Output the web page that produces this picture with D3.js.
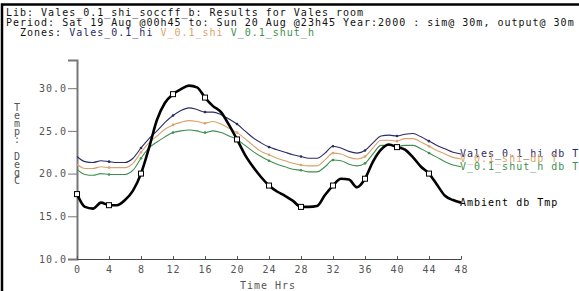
<!DOCTYPE html>
<head>
<meta charset="utf-8">
<title>Vales_room results</title>
<script src="https://d3js.org/d3.v7.min.js"></script>
<style>
  body { margin: 0; background: #fff; }
  svg text { font-family: "DejaVu Sans Mono", "Liberation Mono", monospace; font-size: 10px; letter-spacing: 1px; }
</style>
</head>
<body>
<div id="container"></div>
<script>
//---------------------------- DATA ----------------------------//
const hours = d3.range(0, 49);   // hourly samples, 0..48
const xTicks = [0, 4, 8, 12, 16, 20, 24, 28, 32, 36, 40, 44, 48];
const yTicks = [10, 15, 20, 25, 30];
const headerLines = [
  "Lib: Vales_0.1_shi_soccff_b: Results for Vales_room",
  "Period: Sat 19 Aug @00h45 to: Sun 20 Aug @23h45 Year:2000 : sim@ 30m, output@ 30m"
];
const zoneNames = ["Vales_0.1_hi", "V_0.1_shi", "V_0.1_shut_h"];
const seriesLabels = ["Vales_0.1_hi db T", "V_0.1_shi db T", "V_0.1_shut_h db T", "Ambient db Tmp"];
const yLabelChars = ["T", "e", "m", "p", ":", "", "D", "e", "g", "C"];

const valesHi = [22.0, 21.4, 21.3, 21.5, 21.4, 21.3, 21.3, 21.8, 23.0, 24.1,
  25.0, 26.0, 26.8, 27.4, 27.7, 27.5, 27.2, 27.2, 26.9, 26.4,
  25.8, 25.0, 24.2, 23.6, 23.1, 22.8, 22.5, 22.2, 22.0, 21.8,
  21.8, 22.4, 23.2, 23.0, 22.6, 22.4, 22.7, 23.6, 24.4, 24.5,
  24.4, 24.6, 24.7, 24.3, 23.8, 23.3, 22.9, 22.5, 22.3];
const vShi = [21.1, 20.6, 20.6, 20.8, 20.7, 20.7, 20.7, 21.2, 22.5, 23.6,
  24.4, 25.2, 25.7, 26.0, 26.2, 26.1, 25.9, 26.1, 25.8, 25.3,
  24.8, 24.1, 23.3, 22.6, 22.2, 21.8, 21.5, 21.2, 21.0, 20.9,
  20.9, 21.6, 22.4, 22.3, 21.9, 21.7, 22.0, 23.0, 23.9, 23.9,
  23.8, 24.1, 24.1, 23.7, 23.2, 22.7, 22.3, 21.9, 21.7];
const vShutH = [20.5, 19.9, 19.8, 20.0, 19.9, 19.9, 19.9, 20.4, 21.8, 23.0,
  23.7, 24.3, 24.8, 25.0, 25.1, 25.0, 24.8, 25.0, 24.8, 24.4,
  24.0, 23.3, 22.6, 22.0, 21.5, 21.1, 20.8, 20.5, 20.4, 20.2,
  20.2, 20.8, 21.6, 21.5, 21.1, 20.9, 21.2, 22.3, 23.3, 23.3,
  23.2, 23.3, 23.3, 22.9, 22.4, 21.9, 21.4, 21.0, 20.8];
const ambient = [17.6, 16.1, 15.9, 16.6, 16.3, 16.3, 16.9, 18.0, 20.0, 23.0,
  26.3, 28.3, 29.3, 29.9, 30.3, 30.1, 28.9, 27.9, 27.2, 25.7,
  24.0, 22.2, 20.8, 19.6, 18.6, 17.9, 17.4, 16.8, 16.1, 16.1,
  16.2, 17.5, 18.6, 19.4, 19.3, 18.4, 19.4, 21.4, 22.8, 23.4,
  23.1, 22.8, 21.9, 20.8, 20.0, 18.7, 17.4, 16.9, 16.6];

const colors = ["#2b2b66", "#d9a36b", "#3f8f4f", "#000000"];

//---------------------------- SVG -----------------------------//
const width = 579, height = 291;
const svg = d3.select("#container").append("svg")
    .attr("width", width)
    .attr("height", height);

// window frame (top and left edges)
svg.append("path")
    .attr("d", "M2,291V4.5H579")
    .attr("fill", "none")
    .attr("stroke", "#000")
    .attr("stroke-width", 2.5);

// header
svg.selectAll(".hdr")
  .data(headerLines)
  .enter().append("text")
    .attr("class", "hdr")
    .attr("x", 6)
    .attr("y", (d, i) => 16 + i * 10)
    .attr("fill", "#111")
    .text(d => d);

const zt = svg.append("text")
    .attr("x", 20)
    .attr("y", 36);
zt.append("tspan").attr("fill", "#111").text("Zones: ");
zoneNames.forEach((z, i) => {
  zt.append("tspan").attr("fill", colors[i]).text(z + (i < zoneNames.length - 1 ? " " : ""));
});

//--------------------------- SCALES ---------------------------//
const x = d3.scaleLinear().domain([0, 48]).range([77, 461]);
const y = d3.scaleLinear().domain([10, 33.3]).range([259, 60]);

//---------------------------- AXES ----------------------------//
const yAxis = d3.axisLeft(y)
    .tickValues(yTicks)
    .tickSize(9)
    .tickPadding(1)
    .tickFormat(d3.format(".1f"));
const gy = svg.append("g")
    .attr("transform", "translate(77,0)")
    .call(yAxis);
gy.select(".domain").attr("stroke", "#777").attr("stroke-width", 2);
gy.selectAll(".tick line").attr("stroke", "#777");
gy.selectAll(".tick text")
    .attr("font-size", null)
    .attr("font-family", null)
    .attr("fill", "#555");

const xAxis = d3.axisBottom(x)
    .tickValues(xTicks)
    .tickSizeInner(-3)
    .tickSizeOuter(0)
    .tickPadding(7);
const gx = svg.append("g")
    .attr("transform", "translate(0,259)")
    .call(xAxis);
gx.select(".domain").attr("stroke", "#444");
gx.selectAll(".tick line").attr("stroke", "#555");
gx.selectAll(".tick text")
    .attr("fill", "#555");
gx.attr("font-size", null).attr("font-family", null);
gy.attr("font-size", null).attr("font-family", null);

svg.append("text")
    .attr("x", (x(0) + x(48)) / 2 - 1)
    .attr("y", 289)
    .attr("text-anchor", "middle")
    .attr("fill", "#555")
    .text("Time Hrs");

// vertical y label
svg.selectAll(".ylab")
  .data(yLabelChars)
  .enter().append("text")
    .attr("class", "ylab")
    .attr("x", 17)
    .attr("y", (d, i) => 111 + i * 8.1)
    .attr("text-anchor", "middle")
    .style("letter-spacing", "0")
    .attr("fill", "#555")
    .text(d => d);

//---------------------------- LINES ---------------------------//
const series = [valesHi, vShi, vShutH, ambient].map((vals, i) => ({
  label: seriesLabels[i],
  color: colors[i],
  values: hours.map((h, j) => ({ h: h, t: vals[j] }))
}));

const line = d3.line()
    .x(d => x(d.h))
    .y(d => y(d.t))
    .curve(d3.curveMonotoneX);

const lines = svg.selectAll(".serie")
  .data(series)
  .enter().append("g")
    .attr("class", "serie");

lines.append("path")
    .attr("d", d => line(d.values))
    .attr("fill", "none")
    .attr("stroke", d => d.color)
    .attr("stroke-width", (d, i) => i === 3 ? 2.6 : 1.1);

// markers every 4 hours
lines.each(function(d, i) {
  const marks = d.values.filter(v => v.h % 4 === 0 && v.h > 0 && v.h < 48 || (i === 3 && v.h === 0));
  if (i === 3) {
    d3.select(this).selectAll("rect")
      .data(marks)
      .enter().append("rect")
        .attr("x", v => x(v.h) - 2.5)
        .attr("y", v => y(v.t) - 2.5)
        .attr("width", 5)
        .attr("height", 5)
        .attr("fill", "#fff")
        .attr("stroke", "#000")
        .attr("stroke-width", 1);
  } else {
    d3.select(this).selectAll("circle")
      .data(marks)
      .enter().append("circle")
        .attr("cx", v => x(v.h))
        .attr("cy", v => y(v.t))
        .attr("r", 1.3)
        .attr("fill", d.color);
  }
});

lines.append("text")
    .datum(d => ({ label: d.label, color: d.color, last: d.values[d.values.length - 1] }))
    .attr("x", d => x(d.last.h) - 1)
    .attr("y", d => y(d.last.t) + 3)
    .attr("fill", d => d.color)
    .text(d => d.label);
</script>
</body>
